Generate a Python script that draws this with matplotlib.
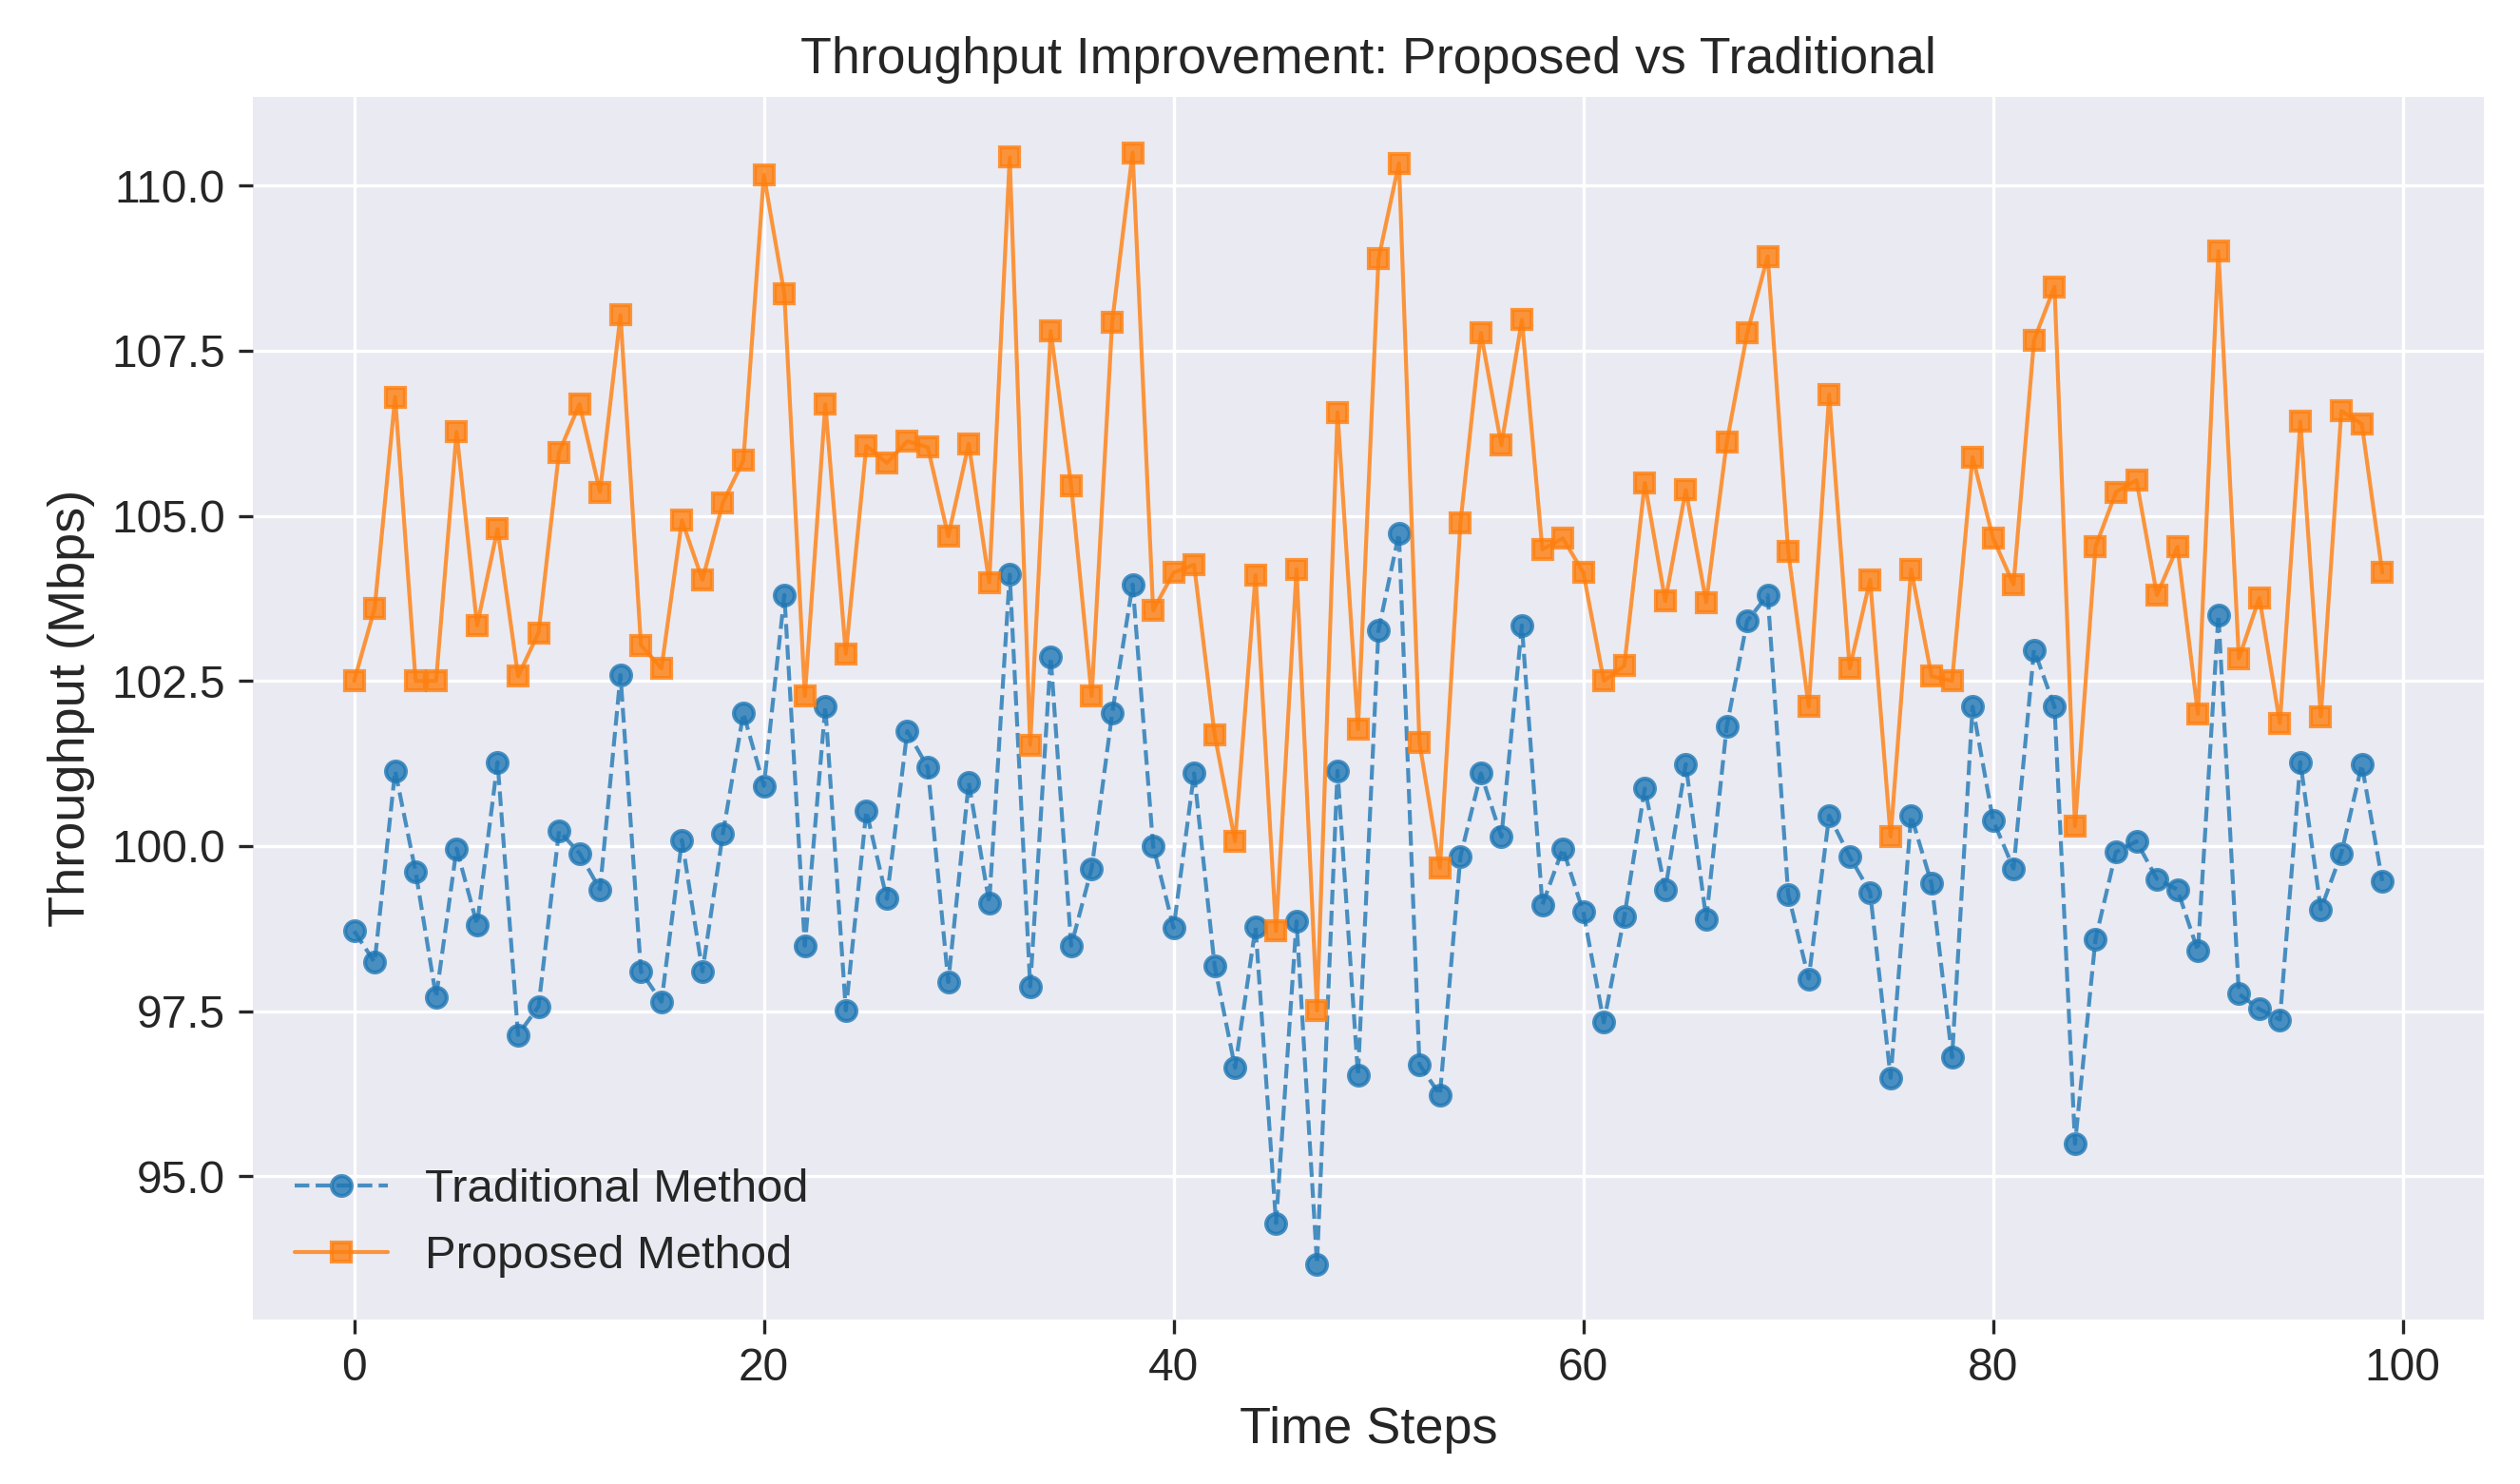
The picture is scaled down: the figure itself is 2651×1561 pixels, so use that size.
import numpy as np
import matplotlib
matplotlib.use('Agg')
import matplotlib.pyplot as plt

# values
time_steps = list(range(100))

traditional = [
    98.71, 98.24, 101.14, 99.61, 97.71, 99.96, 98.81, 101.27, 97.14, 97.57,
    100.23, 99.89, 99.34, 102.59, 98.10, 97.64, 100.09, 98.10, 100.19, 102.01,
    100.91, 103.80, 98.49, 102.11, 97.51, 100.53, 99.20, 101.74, 101.19, 97.94,
    100.96, 99.14, 104.11, 97.87, 102.86, 98.49, 99.66, 102.01, 103.96, 100.00,
    98.76, 101.10, 98.19, 96.64, 98.77, 94.29, 98.86, 93.67, 101.14, 96.53,
    103.27, 104.73, 96.69, 96.23, 99.84, 101.10, 100.14, 103.34, 99.11, 99.96,
    99.00, 97.33, 98.93, 100.87, 99.34, 101.24, 98.89, 101.81, 103.41, 103.80,
    99.27, 97.99, 100.46, 99.84, 99.30, 96.49, 100.46, 99.43, 96.80, 102.11,
    100.39, 99.66, 102.97, 102.11, 95.49, 98.59, 99.91, 100.07, 99.50, 99.34,
    98.41, 103.50, 97.76, 97.53, 97.37, 101.27, 99.04, 99.89, 101.23, 99.47,
]

proposed = [
    102.50, 103.60, 106.80, 102.50, 102.50, 106.27, 103.34, 104.80, 102.57, 103.23,
    105.96, 106.69, 105.36, 108.04, 103.04, 102.69, 104.93, 104.03, 105.20, 105.84,
    110.16, 108.36, 102.27, 106.69, 102.91, 106.06, 105.80, 106.13, 106.04, 104.69,
    106.09, 103.99, 110.43, 101.53, 107.80, 105.46, 102.27, 107.93, 110.50, 103.57,
    104.14, 104.26, 101.69, 100.07, 104.10, 98.71, 104.19, 97.51, 106.57, 101.77,
    108.89, 110.34, 101.57, 99.67, 104.89, 107.77, 106.07, 107.97, 104.49, 104.66,
    104.14, 102.50, 102.73, 105.50, 103.71, 105.39, 103.69, 106.11, 107.77, 108.93,
    104.46, 102.11, 106.84, 102.69, 104.03, 100.14, 104.19, 102.57, 102.50, 105.89,
    104.66, 103.96, 107.66, 108.47, 100.30, 104.53, 105.36, 105.54, 103.80, 104.53,
    102.00, 109.01, 102.84, 103.76, 101.86, 106.43, 101.96, 106.59, 106.39, 104.14,
]

plt.style.use('seaborn-v0_8-darkgrid')
plt.rcParams['font.family'] = ['Liberation Sans', 'DejaVu Sans']

fig = plt.figure(figsize=(2651/300, 1561/300), dpi=300)
ax = fig.add_axes([0.1003, 0.1108, 0.8853, 0.8238])

ax.plot(time_steps, traditional, 'o--', color='#1f77b4', markersize=5,
        linewidth=1, alpha=0.8, label='Traditional Method')
ax.plot(time_steps, proposed, 's-', color='#ff7f0e', markersize=5,
        linewidth=1, alpha=0.8, label='Proposed Method')

ax.set_title('Throughput Improvement: Proposed vs Traditional', fontsize=12.9, color='#262626')
ax.set_xlabel('Time Steps', fontsize=13, color='#262626')
ax.set_ylabel('Throughput (Mbps)', fontsize=13, color='#262626')
ax.tick_params(axis='both', labelsize=11.5, length=3.5, width=0.8,
               color='#262626', labelcolor='#262626')
ax.legend(loc='lower left', fontsize=11.75, frameon=False)

fig.savefig('out.png', dpi=300)
